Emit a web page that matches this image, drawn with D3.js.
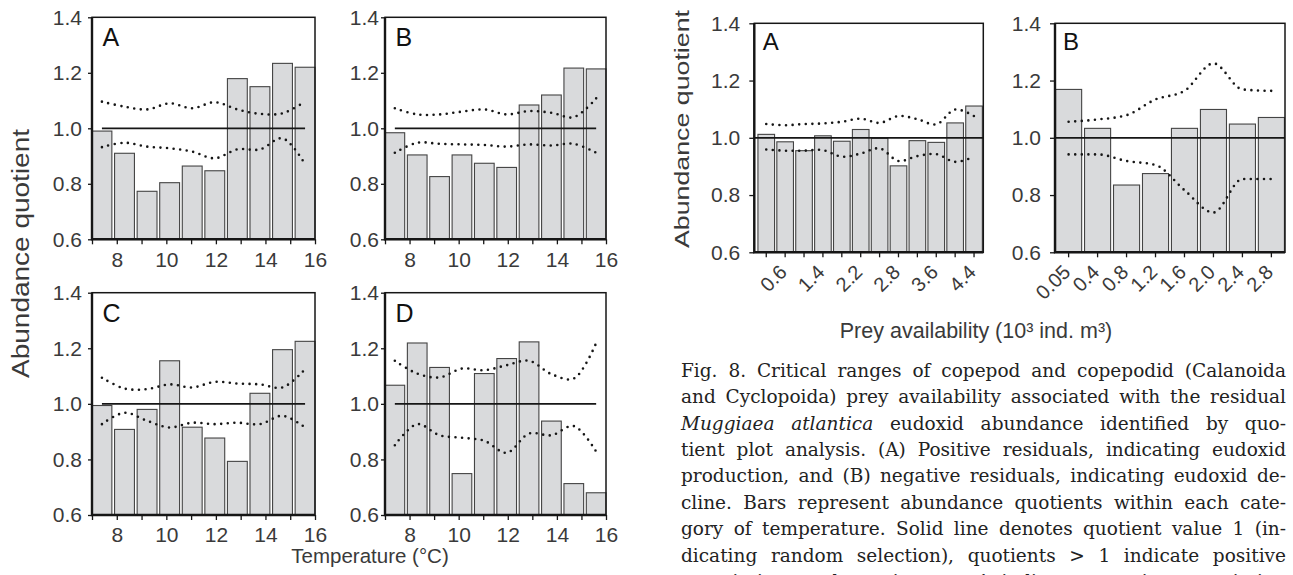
<!DOCTYPE html>
<html><head><meta charset="utf-8">
<script src="https://cdn.jsdelivr.net/npm/d3@7"></script>
<style>
body{margin:0;background:#fff}
svg{display:block}
text{font-family:"Liberation Sans",Arial,Helvetica,sans-serif}
text.cap{font-family:"DejaVu Serif","Liberation Serif",serif}
</style>
</head><body>
<svg id="c" width="1293" height="575"></svg>
<script>
// ---------- DATA ----------
const tempBins = ["7.5","8.4","9.3","10.2","11.1","12.0","12.9","13.8","14.7","15.6"];
const tempTicks = [7,8,9,10,11,12,13,14,15,16];
const tempTickLabels = [8,10,12,14,16];
const yTickValues = [0.6,0.8,1.0,1.2,1.4];

const tempBarsA  = [0.990,0.910,0.773,0.804,0.864,0.847,1.179,1.150,1.234,1.220];
const tempUpperA = [1.096,1.078,1.068,1.090,1.072,1.094,1.068,1.052,1.054,1.096];
const tempLowerA = [0.932,0.948,0.934,0.928,0.916,0.892,0.924,0.924,0.964,0.871];

const tempBarsB  = [0.984,0.904,0.826,0.904,0.874,0.859,1.084,1.120,1.217,1.214];
const tempUpperB = [1.072,1.050,1.050,1.060,1.068,1.050,1.062,1.056,1.040,1.108];
const tempLowerB = [0.912,0.948,0.944,0.942,0.940,0.934,0.942,0.938,0.944,0.912];

const tempBarsC  = [0.994,0.908,0.980,1.155,0.916,0.877,0.793,1.038,1.195,1.225];
const tempUpperC = [1.094,1.055,1.053,1.070,1.059,1.079,1.073,1.070,1.059,1.125];
const tempLowerC = [0.927,0.968,0.939,0.915,0.932,0.927,0.932,0.927,0.957,0.915];

const tempBarsD  = [1.067,1.219,1.131,0.749,1.109,1.163,1.223,0.938,0.713,0.680];
const tempUpperD = [1.155,1.109,1.095,1.127,1.121,1.139,1.155,1.107,1.091,1.219];
const tempLowerD = [0.851,0.927,0.887,0.878,0.867,0.824,0.893,0.887,0.920,0.828];

const preyCatsA   = ["0.2","0.6","1.0","1.4","1.8","2.2","2.5","2.8","3.2","3.6","4.0","4.4"];
const preyLabelsA = ["0.6","1.4","2.2","2.8","3.6","4.4"];
const preyBarsA   = [1.012,0.986,0.955,1.007,0.988,1.029,0.998,0.902,0.990,0.984,1.052,1.111];
const preyUpperA  = [1.048,1.044,1.048,1.050,1.056,1.067,1.052,1.076,1.065,1.047,1.099,1.076];
const preyLowerA  = [0.959,0.955,0.955,0.957,0.934,0.945,0.963,0.919,0.936,0.943,0.916,0.934];

const preyCatsB   = ["0.05","0.4","0.8","1.2","1.6","2.0","2.4","2.8"];
const preyLabelsB = ["0.05","0.4","0.8","1.2","1.6","2.0","2.4","2.8"];
const preyBarsB   = [1.169,1.033,0.835,0.875,1.033,1.099,1.048,1.071];
const preyUpperB  = [1.056,1.064,1.079,1.134,1.164,1.260,1.169,1.164];
const preyLowerB  = [0.942,0.942,0.919,0.905,0.817,0.739,0.856,0.856];

const captionLines = [
  "Fig. 8. Critical ranges of copepod and copepodid (Calanoida",
  "and Cyclopoida) prey availability associated with the residual",
  "*Muggiaea* *atlantica* eudoxid abundance identified by quo-",
  "tient plot analysis. (A) Positive residuals, indicating eudoxid",
  "production, and (B) negative residuals, indicating eudoxid de-",
  "cline. Bars represent abundance quotients within each cate-",
  "gory of temperature. Solid line denotes quotient value 1 (in-",
  "dicating random selection), quotients > 1 indicate positive",
  "association, and quotients < 1 indicate negative association"
];

// ---------- DRAW ----------
const svg = d3.select("#c");
svg.append("rect").attr("width",1293).attr("height",575).attr("fill","#fff");
const TXT = "#3a3a3a";
const INK = "#161616";

function drawPanel(p) {
  const y = d3.scaleLinear().domain([0.6,1.4]).range([p.y1, p.y0]);
  const xb = d3.scaleBand().domain(p.cats).range(p.bandRange)
      .paddingInner(p.padIn).paddingOuter(p.padOut);
  const cx = c => xb(c) + xb.bandwidth()/2;
  const g = svg.append("g");

  g.selectAll("rect.bar").data(p.cats.map((c,i)=>({c, v:p.bars[i]}))).join("rect")
    .attr("class","bar")
    .attr("x", d=>xb(d.c)).attr("width", xb.bandwidth())
    .attr("y", d=>y(d.v)).attr("height", d=>y(0.6)-y(d.v))
    .attr("fill","#d9dadc").attr("stroke","#444").attr("stroke-width",1.1);

  const refX = p.refFull ? [p.x0, p.x1] : [cx(p.cats[0]), cx(p.cats[p.cats.length-1])];
  g.append("line").attr("x1",refX[0]).attr("x2",refX[1])
    .attr("y1",y(1)).attr("y2",y(1)).attr("stroke",INK).attr("stroke-width",1.8);

  const line = d3.line().x((d,i)=>cx(p.cats[i])).y(d=>y(d)).curve(p.curve);
  [p.upper, p.lower].forEach(arr => {
    g.append("path").attr("d", line(arr)).attr("fill","none")
      .attr("stroke",INK).attr("stroke-width",2.6)
      .attr("stroke-linecap","round").attr("stroke-dasharray","0 6.6");
  });

  // frame
  g.append("rect").attr("x",p.x0).attr("y",p.y0).attr("width",p.x1-p.x0).attr("height",p.y1-p.y0)
    .attr("fill","none").attr("stroke",INK).attr("stroke-width",1.5);
  g.append("path").attr("d",`M${p.x0},${p.y0}V${p.y1}H${p.x1}`).attr("fill","none")
    .attr("stroke",INK).attr("stroke-width",2.4);

  // y axis
  const ya = svg.append("g").attr("transform",`translate(${p.x0},0)`)
    .call(d3.axisLeft(y).tickValues(yTickValues).tickFormat(d3.format(".1f"))
      .tickSize(p.yTickSize).tickPadding(p.yPad));
  ya.select(".domain").remove();
  ya.selectAll("line").attr("stroke",INK).attr("stroke-width",1.3);
  ya.selectAll("text").attr("font-size",21).attr("fill",TXT).attr("font-family",null);

  // x axis
  if (p.kind === "temp") {
    const xl = d3.scaleLinear().domain([7,16]).range([p.x0,p.x1]);
    const xa = svg.append("g").attr("transform",`translate(0,${p.y1})`)
      .call(d3.axisBottom(xl).tickValues(tempTicks)
        .tickFormat(d => tempTickLabels.includes(d) ? d : "").tickSize(5).tickPadding(7.5));
    xa.select(".domain").remove();
    xa.selectAll("line").attr("stroke",INK).attr("stroke-width",1.3);
    xa.selectAll("text").attr("font-size",21).attr("fill",TXT).attr("font-family",null);
  } else {
    const xa = svg.append("g").attr("transform",`translate(0,${p.y1})`)
      .call(d3.axisBottom(xb).tickFormat(d => p.shown.includes(d) ? d : "").tickSize(5));
    xa.select(".domain").remove();
    xa.selectAll("line").attr("stroke",INK).attr("stroke-width",1.3);
    xa.selectAll("text").attr("font-size",20).attr("fill",TXT).attr("font-family",null)
      .attr("x",null).attr("y",null).attr("dy",null)
      .attr("text-anchor","end").attr("transform","translate(3,21) rotate(-45)");
  }

  // panel letter
  svg.append("text").attr("x",p.x0+p.lx).attr("y",p.y0+p.ly)
    .attr("font-size",p.lsize).attr("fill","#111").text(p.letter);
}

const cr = d3.curveCatmullRom.alpha(0.5);
const leftPanels = [
  {letter:"A", x0:92,  x1:315, y0:17.3,  y1:239.3, bars:tempBarsA, upper:tempUpperA, lower:tempLowerA, yPad:6, yTickSize:4},
  {letter:"B", x0:385, x1:606, y0:17.3,  y1:239.3, bars:tempBarsB, upper:tempUpperB, lower:tempLowerB, yPad:2, yTickSize:4},
  {letter:"C", x0:92,  x1:315, y0:292.7, y1:515,   bars:tempBarsC, upper:tempUpperC, lower:tempLowerC, yPad:6, yTickSize:4},
  {letter:"D", x0:385, x1:606, y0:292.7, y1:515,   bars:tempBarsD, upper:tempUpperD, lower:tempLowerD, yPad:2, yTickSize:4}
];
leftPanels.forEach(p => drawPanel(Object.assign(p, {
  kind:"temp", cats:tempBins, bandRange:[p.x0,p.x1], padIn:0.12, padOut:0.0,
  refFull:false, curve:cr, lx:10.5, ly:29, lsize:25
})));

drawPanel({kind:"prey", letter:"A", x0:754.3, x1:983.3, y0:23.3, y1:252.3,
  cats:preyCatsA, shown:preyLabelsA, bars:preyBarsA, upper:preyUpperA, lower:preyLowerA,
  bandRange:[757,983.3], padIn:0.12, padOut:0.05, refFull:true, curve:cr,
  yPad:9, yTickSize:5, lx:8.5, ly:27, lsize:24});
drawPanel({kind:"prey", letter:"B", x0:1055, x1:1285, y0:23.3, y1:252.3,
  cats:preyCatsB, shown:preyLabelsB, bars:preyBarsB, upper:preyUpperB, lower:preyLowerB,
  bandRange:[1055,1285], padIn:0.1, padOut:0.02, refFull:true, curve:d3.curveMonotoneX,
  yPad:9, yTickSize:5, lx:8, ly:27, lsize:24});

// axis titles
svg.append("text").attr("transform","translate(29,253.5) rotate(-90)")
  .attr("text-anchor","middle").attr("font-size",23).attr("fill",TXT)
  .attr("textLength",249).attr("lengthAdjust","spacingAndGlyphs").text("Abundance quotient");
svg.append("text").attr("transform","translate(689,129) rotate(-90)")
  .attr("text-anchor","middle").attr("font-size",21).attr("fill",TXT)
  .attr("textLength",238).attr("lengthAdjust","spacingAndGlyphs").text("Abundance quotient");
svg.append("text").attr("x",370).attr("y",563).attr("text-anchor","middle")
  .attr("font-size",20.5).attr("fill",TXT).text("Temperature (°C)");
svg.append("text").attr("x",976).attr("y",338).attr("text-anchor","middle")
  .attr("font-size",21.5).attr("fill",TXT).text("Prey availability (10³ ind. m³)");

// caption (justified)
const capLeft = 681, capRight = 1286, capTop = 376.7, capStep = 26.4;
captionLines.forEach((ln, li) => {
  const words = ln.split(" ").map(w => {
    const it = w.startsWith("*") && w.endsWith("*");
    return {t: it ? w.slice(1,-1) : w, it};
  });
  const yb = capTop + li*capStep;
  const els = words.map(w => svg.append("text").attr("class","cap").attr("y", yb)
    .attr("font-size",18.5)
    .style("font-style", w.it ? "italic" : "normal").attr("fill","#222").text(w.t));
  const widths = els.map(e => e.node().getComputedTextLength());
  const sum = d3.sum(widths);
  const gap = (capRight - capLeft - sum) / (words.length - 1);
  let x = capLeft;
  els.forEach((e,i) => { e.attr("x", x); x += widths[i] + gap; });
});
</script>
</body></html>
